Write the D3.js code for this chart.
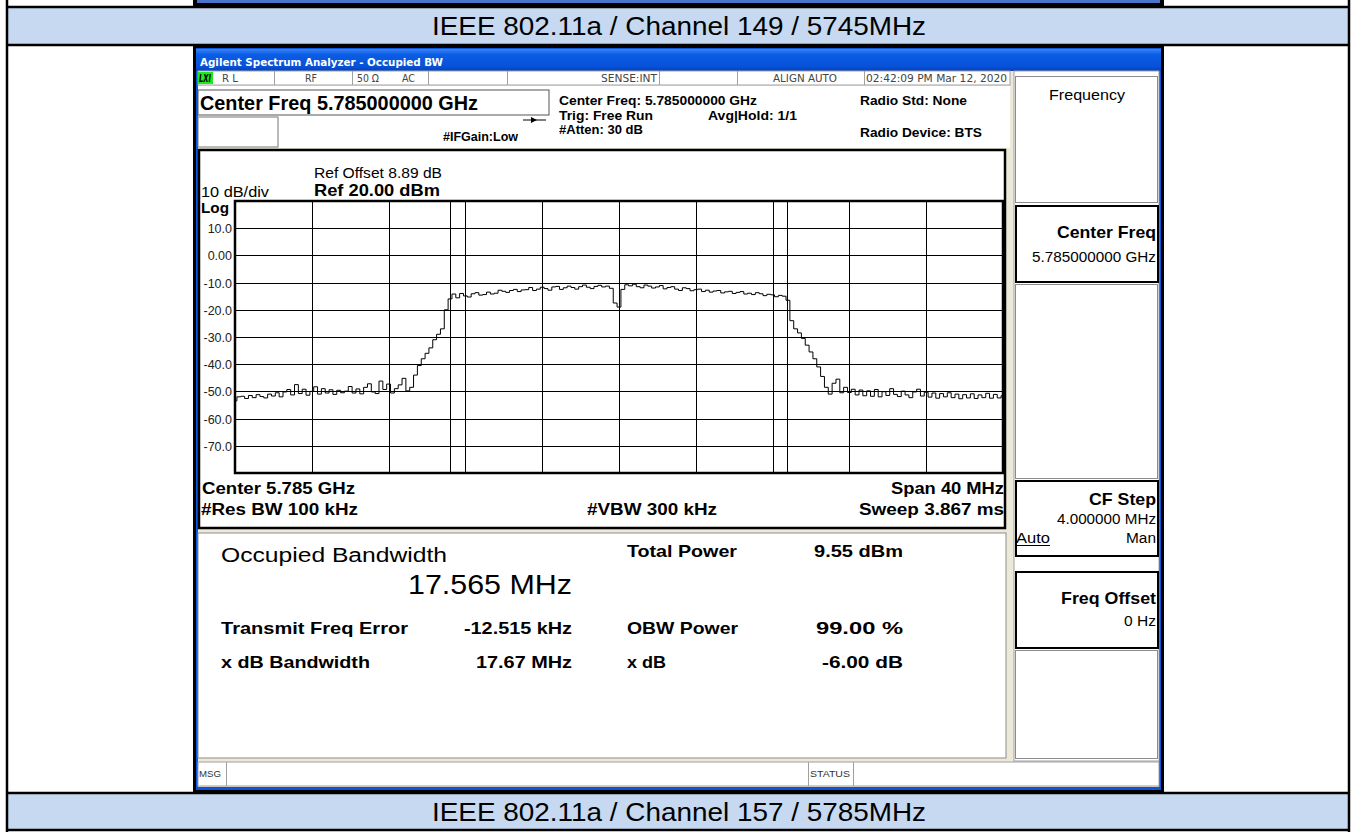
<!DOCTYPE html>
<html>
<head>
<meta charset="utf-8">
<style>
  body { margin: 0; background: #fff; }
  svg { display: block; }
  text {
    font-family: "Liberation Sans", Arial, sans-serif;
    dominant-baseline: central;
    fill: #000;
  }
  line.grid { stroke: #000; stroke-width: 1; shape-rendering: crispEdges; }
  line.marker { stroke: #000; stroke-width: 1; shape-rendering: crispEdges; }
  path.trace { fill: none; stroke: #000; stroke-width: 1; }
  rect.key { fill: #fff; stroke: #8c8c8c; stroke-width: 1; }
  rect.key-on { fill: #fff; stroke: #000; stroke-width: 2; }
</style>
<script src="https://cdn.jsdelivr.net/npm/d3@7"></script>
</head>
<body>
<div id="canvas"></div>
<script>

var canvas_w = 1351;
var canvas_h = 832;

// captions of the report table rows
var pageCaptions = ["IEEE 802.11a / Channel 149 / 5745MHz", "IEEE 802.11a / Channel 157 / 5785MHz"];

// analyzer settings
var centerGHz = 5.785;
var spanMHz = 40;
var refLevel = 20;
var dbPerDiv = 10;
var obwMHz = 17.565;
var freqErrorMHz = -0.012515;

var yTickValues = [10, 0, -10, -20, -30, -40, -50, -60, -70];
var yTickLabels = ["10.0", "0.00", "-10.0", "-20.0", "-30.0", "-40.0", "-50.0", "-60.0", "-70.0"];

// trace, dBm, evenly spaced over the span
var traceDbm = [
  -53.5, -52.0, -51.8, -52.6, -51.5, -52.3, -51.2, -51.9, -52.4, -51.0,
  -51.7, -50.5, -52.0, -50.2, -49.3, -51.3, -47.5, -50.8, -49.2, -51.4,
  -50.0, -48.3, -51.0, -49.0, -50.6, -49.4, -51.1, -49.6, -50.5, -49.9,
  -48.2, -50.6, -49.1, -50.9, -48.5, -47.2, -50.2, -50.8, -46.2, -49.3,
  -47.3, -50.6, -49.0, -47.6, -45.2, -49.8, -48.5, -44.0, -40.5, -38.0,
  -36.0, -34.0, -31.0, -29.0, -27.0, -20.0, -16.0, -14.2, -15.6, -14.0,
  -14.9, -15.3, -14.1, -13.7, -14.6, -14.4, -13.5, -14.2, -13.9, -12.8,
  -13.2, -13.6, -12.9, -12.5, -13.3, -12.7, -12.6, -11.8, -12.9, -12.4,
  -11.7, -12.2, -12.8, -11.6, -11.4, -12.5, -11.9, -11.3, -11.8, -12.4,
  -11.5, -10.9, -11.7, -12.2, -11.4, -11.0, -11.6, -11.3, -12.1, -17.5,
  -19.0, -12.5, -10.8, -11.2, -10.6, -11.5, -11.9, -10.9, -11.3, -12.0,
  -11.6, -11.1, -12.3, -11.8, -11.5, -12.4, -12.9, -11.9, -12.2, -13.0,
  -12.6, -12.4, -13.3, -12.8, -13.5, -13.1, -12.9, -13.8, -13.4, -13.2,
  -14.0, -13.6, -13.3, -14.2, -13.9, -14.4, -13.7, -14.1, -14.8, -14.3,
  -14.5, -15.2, -14.7, -15.0, -16.5, -24.0, -27.0, -28.5, -30.5, -33.0,
  -35.5, -38.0, -41.0, -44.5, -48.5, -51.0, -47.0, -45.5, -50.5, -48.5,
  -50.4, -49.2, -51.3, -49.5, -51.6, -49.8, -51.8, -49.3, -52.0, -50.1,
  -51.5, -49.0, -51.1, -51.9, -49.9, -51.3, -52.3, -50.2, -49.2, -51.7,
  -50.3, -52.1, -50.6, -52.5, -50.8, -52.0, -50.5, -52.3, -51.0, -52.7,
  -51.2, -52.4, -50.9, -52.6, -51.3, -52.3, -50.7, -52.5, -51.1, -52.4,
  -51.6
];

// measurement results
var resultsLeft = [["Transmit Freq Error", "-12.515 kHz"], ["x dB Bandwidth", "17.67 MHz"]];
var resultsRight = [["Total Power", "9.55 dBm"], ["OBW Power", "99.00 %"], ["x dB", "-6.00 dB"]];

var svg, xScale, yScale;

function txt(g, s, x, y, size, o) {
    o = o || {};
    var t = g.append("text").text(s)
        .attr("x", x).attr("y", y)
        .style("font-size", size + "px");
    if (o.bold) t.style("font-weight", "bold");
    if (o.anchor) t.attr("text-anchor", o.anchor);
    if (o.fill) t.style("fill", o.fill);
    if (o.family) t.style("font-family", o.family);
    if (o.len) t.attr("textLength", o.len).attr("lengthAdjust", "spacingAndGlyphs");
    return t;
}

function init() {
    svg = d3.select("#canvas").append("svg")
        .attr("width", canvas_w).attr("height", canvas_h);
    drawTable();
    drawWindow();
    drawHeader();
    drawGraph();
    drawResults();
    drawSoftkeys();
}

function drawTable() {
    var g = svg.append("g");
    // bottom edge of the screenshot above
    g.append("rect").attr("x", 193).attr("y", 0).attr("width", 971).attr("height", 7).attr("fill", "#000");
    g.append("rect").attr("x", 197).attr("y", 0).attr("width", 963).attr("height", 3).attr("fill", "#4a74c9");

    g.append("rect").attr("x", 7).attr("y", 8).attr("width", 1341).attr("height", 37).attr("fill", "#c6d9f1");
    g.append("rect").attr("x", 7).attr("y", 794).attr("width", 1341).attr("height", 36).attr("fill", "#c6d9f1");

    [7, 45, 793, 830].forEach(function(y) {
        g.append("line").attr("x1", 6).attr("x2", 1350).attr("y1", y).attr("y2", y)
            .attr("stroke", "#000").attr("stroke-width", 2.5);
    });
    [7, 1349].forEach(function(x) {
        g.append("line").attr("x1", x).attr("x2", x).attr("y1", 0).attr("y2", canvas_h)
            .attr("stroke", "#000").attr("stroke-width", 2.5);
    });

    txt(g, pageCaptions[0], 679, 26, 26.5, {anchor: "middle", len: 494});
    txt(g, pageCaptions[1], 679, 812, 26.5, {anchor: "middle", len: 494});
}

function drawWindow() {
    var defs = svg.append("defs");
    var grad = defs.append("linearGradient").attr("id", "titlebar")
        .attr("x1", 0).attr("x2", 0).attr("y1", 0).attr("y2", 1);
    grad.append("stop").attr("offset", "0%").attr("stop-color", "#3d83f0");
    grad.append("stop").attr("offset", "25%").attr("stop-color", "#0a5de6");
    grad.append("stop").attr("offset", "80%").attr("stop-color", "#0751d8");
    grad.append("stop").attr("offset", "100%").attr("stop-color", "#0440b8");

    var g = svg.append("g");
    g.append("rect").attr("x", 193).attr("y", 46).attr("width", 971).attr("height", 748).attr("fill", "#000");
    g.append("rect").attr("x", 196).attr("y", 48).attr("width", 965).attr("height", 742).attr("fill", "#0a55d8");
    g.append("rect").attr("x", 196).attr("y", 49).attr("width", 965).attr("height", 22).attr("fill", "url(#titlebar)");
    g.append("rect").attr("x", 198).attr("y", 71).attr("width", 961).attr("height", 716).attr("fill", "#ece9d8");

    txt(g, "Agilent Spectrum Analyzer - Occupied BW", 200, 62, 11,
        {bold: true, fill: "#fff", family: "'DejaVu Sans', sans-serif", len: 243});

    // status line
    g.append("rect").attr("x", 198).attr("y", 71).attr("width", 812).attr("height", 14)
        .attr("fill", "#fff").attr("stroke", "#a0a0a0");
    g.append("rect").attr("x", 198).attr("y", 72).attr("width", 15).attr("height", 12).attr("fill", "#1ee81e");
    txt(g, "LXI", 199, 78, 10, {bold: true, family: "'DejaVu Sans Condensed', sans-serif", len: 12}).style("font-style", "italic");
    [274, 352, 428, 507, 659, 737, 864].forEach(function(x) {
        g.append("line").attr("x1", x).attr("x2", x).attr("y1", 71).attr("y2", 85)
            .attr("stroke", "#a0a0a0").style("shape-rendering", "crispEdges");
    });
    var st = {fill: "#444", family: "'DejaVu Sans Condensed', sans-serif"};
    txt(g, "R L", 222, 78, 10, Object.assign({len: 16}, st));
    txt(g, "RF", 305, 78, 10, Object.assign({len: 12}, st));
    txt(g, "50 \u03a9", 357, 78, 10, Object.assign({len: 22}, st));
    txt(g, "AC", 402, 78, 10, Object.assign({len: 13}, st));
    txt(g, "SENSE:INT", 601, 78, 10, Object.assign({len: 56}, st));
    txt(g, "ALIGN AUTO", 773, 78, 10, Object.assign({len: 64}, st));
    txt(g, "02:42:09 PM Mar 12, 2020", 866, 78, 10, Object.assign({len: 141}, st));

    // message bar
    g.append("rect").attr("x", 198).attr("y", 762).attr("width", 961).attr("height", 24)
        .attr("fill", "#fff").attr("stroke", "#a0a0a0");
    [226, 808, 853].forEach(function(x) {
        g.append("line").attr("x1", x).attr("x2", x).attr("y1", 762).attr("y2", 786)
            .attr("stroke", "#a0a0a0").style("shape-rendering", "crispEdges");
    });
    txt(g, "MSG", 199, 774, 9, {fill: "#333", len: 22});
    txt(g, "STATUS", 810, 774, 9, {fill: "#333", len: 40});
}

function drawHeader() {
    var g = svg.append("g");
    g.append("rect").attr("x", 198).attr("y", 86).attr("width", 812).attr("height", 62).attr("fill", "#fff");

    g.append("rect").attr("x", 198).attr("y", 90).attr("width", 351).attr("height", 25)
        .attr("fill", "#fff").attr("stroke", "#555");
    txt(g, "Center Freq 5.785000000 GHz", 200, 103, 19.5, {bold: true, len: 278});
    g.append("rect").attr("x", 198).attr("y", 117).attr("width", 80).attr("height", 30)
        .attr("fill", "#fff").attr("stroke", "#777");

    // trigger arrow
    g.append("line").attr("x1", 523).attr("x2", 546).attr("y1", 120).attr("y2", 120).attr("stroke", "#000");
    g.append("path").attr("d", "M531,117 L537,120 L531,123 Z").attr("fill", "#000");

    var hs = 12.5;
    txt(g, "#IFGain:Low", 443, 137, 12, {bold: true, len: 75});
    txt(g, "Center Freq: 5.785000000 GHz", 559, 101, hs, {bold: true, len: 198});
    txt(g, "Trig: Free Run", 559, 116, hs, {bold: true, len: 94});
    txt(g, "#Atten: 30 dB", 559, 130, hs, {bold: true, len: 84});
    txt(g, "Avg|Hold: 1/1", 708, 116, hs, {bold: true, len: 89});
    txt(g, "Radio Std: None", 860, 101, hs, {bold: true, len: 107});
    txt(g, "Radio Device: BTS", 860, 133, hs, {bold: true, len: 122});
}

function drawGraph() {
    var g = svg.append("g");
    g.append("rect").attr("x", 199).attr("y", 150).attr("width", 806).attr("height", 378)
        .attr("fill", "#fff").attr("stroke", "#000").attr("stroke-width", 2.5);

    xScale = d3.scaleLinear().domain([-spanMHz / 2, spanMHz / 2]).range([235, 1003]);
    yScale = d3.scaleLinear().domain([refLevel - 10 * dbPerDiv, refLevel]).range([473, 201]);

    var grid = g.append("g");
    grid.selectAll("line.v").data(d3.range(-spanMHz / 2, spanMHz / 2 + 0.1, spanMHz / 10)).enter()
        .append("line").attr("class", "grid")
        .attr("x1", function(d) { return Math.round(xScale(d)) + 0.5; })
        .attr("x2", function(d) { return Math.round(xScale(d)) + 0.5; })
        .attr("y1", yScale.range()[0]).attr("y2", yScale.range()[1]);
    grid.selectAll("line.h").data(yTickValues).enter()
        .append("line").attr("class", "grid")
        .attr("x1", xScale.range()[0]).attr("x2", xScale.range()[1])
        .attr("y1", function(d) { return Math.round(yScale(d)) + 0.5; })
        .attr("y2", function(d) { return Math.round(yScale(d)) + 0.5; });

    // OBW markers
    var half = obwMHz / 2;
    [freqErrorMHz - half, freqErrorMHz + half].forEach(function(f) {
        g.append("line").attr("class", "marker")
            .attr("x1", Math.round(xScale(f)) + 0.5).attr("x2", Math.round(xScale(f)) + 0.5)
            .attr("y1", yScale.range()[1] - 1).attr("y2", yScale.range()[0]);
    });

    var n = traceDbm.length;
    var line = d3.line()
        .x(function(d, i) { return xScale(-spanMHz / 2 + spanMHz * i / (n - 1)); })
        .y(function(d) { return yScale(d); })
        .curve(d3.curveStep);
    g.append("path").datum(traceDbm).attr("class", "trace").attr("d", line);

    // plot border
    g.append("rect").attr("x", xScale.range()[0]).attr("y", yScale.range()[1])
        .attr("width", xScale.range()[1] - xScale.range()[0])
        .attr("height", yScale.range()[0] - yScale.range()[1])
        .attr("fill", "none").attr("stroke", "#000").attr("stroke-width", 2.5);

    yTickValues.forEach(function(v, i) {
        txt(g, yTickLabels[i], 232, yScale(v) + 1, 12.5, {anchor: "end", fill: "#222"});
    });

    txt(g, "Ref Offset 8.89 dB", 314, 173, 14, {len: 128});
    txt(g, "Ref 20.00 dBm", 314, 190, 16.5, {bold: true, len: 126});
    txt(g, "10 dB/div", 201, 192, 14.5, {len: 68});
    txt(g, "Log", 201, 207, 15, {bold: true, len: 28});

    var bs = 16;
    txt(g, "Center  " + centerGHz + " GHz", 202, 488, bs, {bold: true, len: 153});
    txt(g, "#Res BW  100 kHz", 201, 509, bs, {bold: true, len: 157});
    txt(g, "#VBW  300 kHz", 587, 509, bs, {bold: true, len: 130});
    txt(g, "Span " + spanMHz + " MHz", 1004, 488, bs, {bold: true, anchor: "end", len: 113});
    txt(g, "Sweep  3.867 ms", 1004, 509, bs, {bold: true, anchor: "end", len: 145});
}

function drawResults() {
    var g = svg.append("g");
    g.append("rect").attr("x", 198).attr("y", 533).attr("width", 808).attr("height", 225)
        .attr("fill", "#fff").attr("stroke", "#8c8c8c");

    txt(g, "Occupied Bandwidth", 221, 555, 19.5, {len: 226});
    txt(g, obwMHz.toFixed(3) + " MHz", 572, 585, 27, {anchor: "end", len: 164});

    var rs = 17;
    resultsLeft.forEach(function(r, i) {
        var y = 628 + i * 34;
        txt(g, r[0], 221, y, rs, {bold: true, len: i == 0 ? 187 : 149});
        txt(g, r[1], 572, y, rs, {bold: true, anchor: "end", len: i == 0 ? 108 : 96});
    });
    var ys = [551, 628, 662];
    var lw = [110, 111, 39];
    var vw = [89, 87, 81];
    resultsRight.forEach(function(r, i) {
        txt(g, r[0], 627, ys[i], rs, {bold: true, len: lw[i]});
        txt(g, r[1], 903, ys[i], rs, {bold: true, anchor: "end", len: vw[i]});
    });
}

function drawSoftkeys() {
    var g = svg.append("g");
    g.append("rect").attr("x", 1014).attr("y", 71).attr("width", 145).attr("height", 690).attr("fill", "#fff")
        .attr("stroke", "#a0a0a0");

    g.append("rect").attr("class", "key").attr("x", 1015.5).attr("y", 76.5).attr("width", 142).attr("height", 126);
    g.append("rect").attr("class", "key-on").attr("x", 1016).attr("y", 206).attr("width", 142).attr("height", 76);
    g.append("rect").attr("class", "key").attr("x", 1015.5).attr("y", 284.5).attr("width", 142).attr("height", 194);
    g.append("rect").attr("class", "key-on").attr("x", 1016).attr("y", 481).attr("width", 142).attr("height", 75);
    g.append("rect").attr("class", "key-on").attr("x", 1016).attr("y", 572).attr("width", 142).attr("height", 76);
    g.append("rect").attr("class", "key").attr("x", 1015.5).attr("y", 650.5).attr("width", 142).attr("height", 108);

    txt(g, "Frequency", 1087, 94, 15, {anchor: "middle", len: 76});
    txt(g, "Center Freq", 1156, 232, 16.5, {bold: true, anchor: "end", len: 99});
    txt(g, "5.785000000 GHz", 1156, 257, 14, {anchor: "end", len: 124});
    txt(g, "CF Step", 1156, 499, 16.5, {bold: true, anchor: "end", len: 67});
    txt(g, "4.000000 MHz", 1156, 519, 14, {anchor: "end", len: 99});
    txt(g, "Auto", 1016, 538, 14, {len: 34});
    g.append("line").attr("x1", 1016).attr("x2", 1050).attr("y1", 545.5).attr("y2", 545.5).attr("stroke", "#000");
    txt(g, "Man", 1156, 538, 14, {anchor: "end", len: 30});
    txt(g, "Freq Offset", 1156, 598, 16.5, {bold: true, anchor: "end", len: 95});
    txt(g, "0 Hz", 1156, 621, 14, {anchor: "end", len: 32});
}

init();
</script>
</body>
</html>
